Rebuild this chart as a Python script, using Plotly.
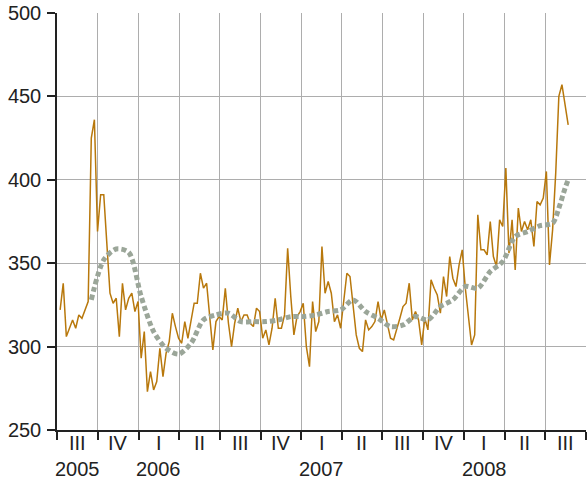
import pandas as pd
import plotly.graph_objects as go

# Weekly series
start_date = "2005-07-08"
values = [
    322, 338, 306, 311, 316, 311, 319, 317, 322, 327,
    425, 436, 369, 391, 391, 360, 332, 326, 329, 306,
    338, 322, 329, 332, 321, 327, 293, 309, 273, 285,
    274, 279, 299, 282, 296, 303, 320, 312, 305, 302,
    315, 305, 315, 326, 326, 344, 335, 338, 318, 298,
    315, 318, 316, 335, 314, 300, 314, 323, 315, 319,
    319, 314, 312, 323, 321, 305, 310, 301, 311, 329,
    311, 311, 319, 359, 330, 307, 318, 321, 326, 300,
    288, 327, 309, 315, 360, 332, 339, 332, 315, 319,
    311, 329, 344, 342, 323, 307, 299, 297, 316, 310,
    312, 315, 327, 316, 322, 314, 305, 304, 310, 317,
    324, 326, 338, 316, 321, 316, 301, 317, 310, 340,
    335, 331, 320, 342, 330, 354, 341, 336, 349, 358,
    335, 318, 301, 307, 379, 358, 358, 355, 375, 354,
    348, 376, 372, 407, 356, 376, 346, 383, 369, 375,
    370, 376, 360, 387, 385, 389, 405, 349, 370, 404,
    450, 457, 445, 433,
]

# Smoothed trend (week index into the series, value)
trend_weeks = [10, 14, 18, 22, 26, 30, 34, 38, 42, 46, 50, 54, 58, 62, 66, 70,
               74, 78, 82, 86, 90, 94, 98, 102, 106, 110, 114, 118, 122, 126,
               130, 134, 138, 142, 146, 150, 154, 158, 160, 162, 163]
trend_values = [328, 352, 358.5, 356.5, 330, 309, 299, 295.5, 302, 316, 319, 320,
                315, 315, 315, 316, 318, 318, 319, 321, 322, 328, 321, 317, 312,
                313, 318, 316, 324, 328, 336, 335, 345, 351, 366, 369, 372.5, 374,
                383, 395, 400]

# Axis ticks
quarter_bounds = ["2005-07-01", "2005-10-01", "2006-01-01", "2006-04-01", "2006-07-01",
                  "2006-10-01", "2007-01-01", "2007-04-01", "2007-07-01", "2007-10-01",
                  "2008-01-01", "2008-04-01", "2008-07-01", "2008-10-01"]
quarter_labels = ["III", "IV", "I", "II", "III", "IV", "I", "II", "III", "IV", "I", "II", "III"]
year_labels = {0: "2005", 2: "2006", 6: "2007", 10: "2008"}
y_ticks = [250, 300, 350, 400, 450, 500]

dates = pd.date_range(start_date, periods=len(values), freq="7D")
trend_dates = [dates[i] for i in trend_weeks]

fig = go.Figure()
fig.add_trace(go.Scatter(x=dates, y=values, mode="lines",
                         line=dict(color="#B8780C", width=1.5), showlegend=False))
fig.add_trace(go.Scatter(x=trend_dates, y=trend_values, mode="lines",
                         line=dict(color="#9BA699", width=5, dash="5px,3px", shape="spline", smoothing=0.8),
                         showlegend=False))

qb = pd.to_datetime(quarter_bounds)
mids = [qb[i] + (qb[i + 1] - qb[i]) / 2 for i in range(len(quarter_labels))]
font_main = dict(family="Liberation Sans, Arial, sans-serif", size=20, color="#222222")
for i, lab in enumerate(quarter_labels):
    fig.add_annotation(x=mids[i], y=-0.032, xref="x", yref="paper", text=lab,
                       showarrow=False, yanchor="middle", font=font_main)
for i, yl in year_labels.items():
    fig.add_annotation(x=mids[i], y=-0.094, xref="x", yref="paper", text=yl,
                       showarrow=False, yanchor="middle", font=font_main)

fig.update_layout(
    width=587, height=485,
    margin=dict(l=57, r=1, t=13, b=55),
    paper_bgcolor="white", plot_bgcolor="white",
    font=font_main,
    xaxis=dict(range=[qb[0], qb[-1]], tickvals=quarter_bounds, showticklabels=False,
               ticks="outside", ticklen=8, tickwidth=1.5, tickcolor="#222222",
               showline=True, linecolor="#222222", linewidth=1.5, automargin=False,
               showgrid=True, gridcolor="#ADADAD", gridwidth=1.2, zeroline=False),
    yaxis=dict(range=[250, 500], tickvals=y_ticks, ticks="outside", ticklen=8,
               tickwidth=1.5, tickcolor="#222222", ticklabelstandoff=2, automargin=False,
               showline=True, linecolor="#222222", linewidth=1.5,
               showgrid=True, gridcolor="#ADADAD", gridwidth=1.2, zeroline=False),
)

fig.write_html("out.html", config={"displayModeBar": False},
               post_script="document.body.style.margin='0px';")
